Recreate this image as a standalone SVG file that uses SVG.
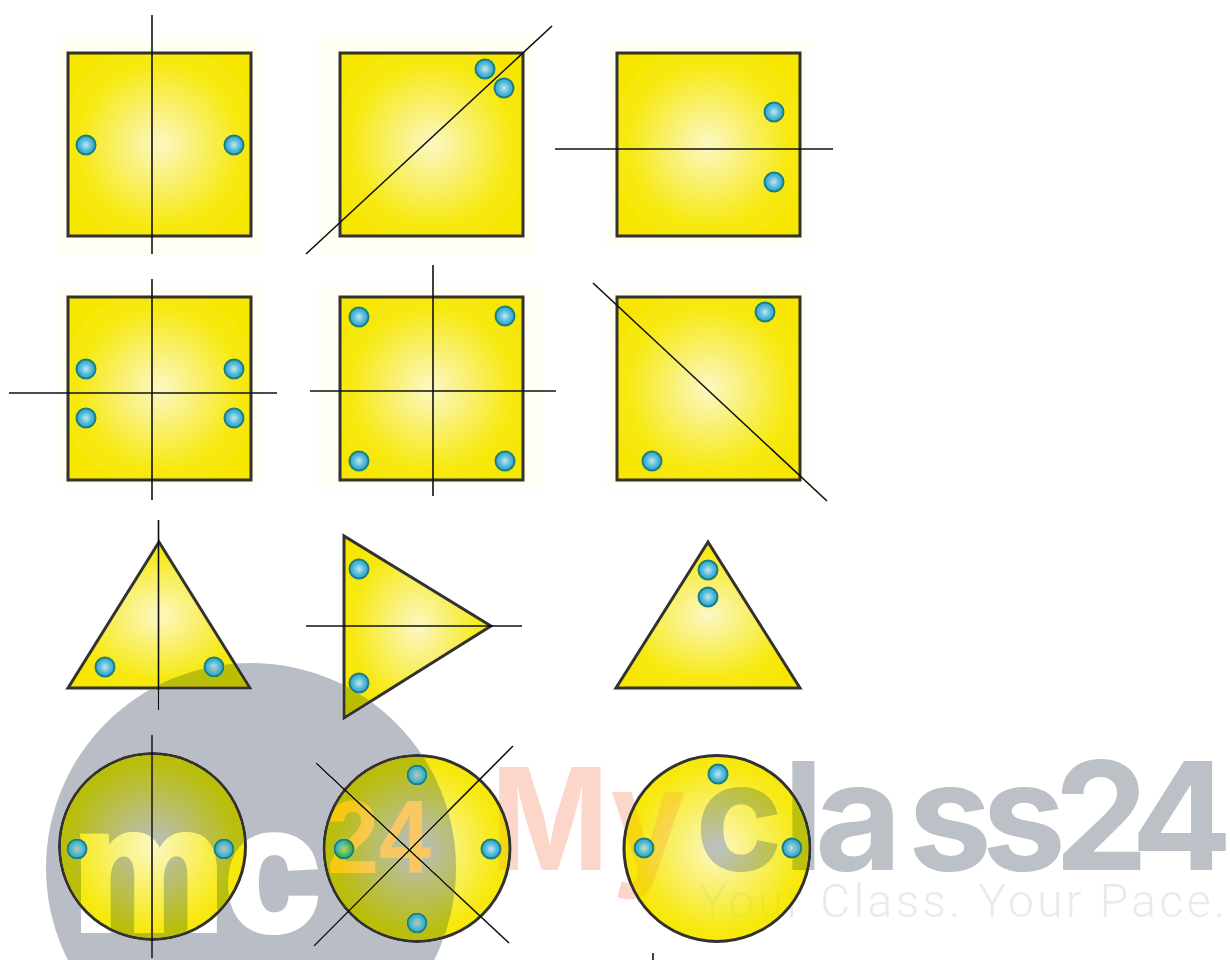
<svg xmlns="http://www.w3.org/2000/svg" width="1230" height="960" viewBox="0 0 1230 960">
<defs>
<radialGradient id="fill" cx="50%" cy="50%" r="62%"><stop offset="0" stop-color="#fbf8c4"/><stop offset="0.3" stop-color="#f9f17a"/><stop offset="0.72" stop-color="#f7e90f"/><stop offset="1" stop-color="#f6e600"/></radialGradient>
<radialGradient id="dot" cx="50%" cy="50%" r="50%"><stop offset="0" stop-color="#c5e8ea"/><stop offset="0.6" stop-color="#52b9dc"/><stop offset="1" stop-color="#2ea3cf"/></radialGradient>
<symbol id="d" overflow="visible"><circle r="9.500" fill="url(#dot)" stroke="#1d7f7d" stroke-width="2"/></symbol>
<filter id="soft" x="-5%" y="-5%" width="110%" height="110%"><feGaussianBlur stdDeviation="0.500"/></filter>
</defs>
<style>
.s{fill:url(#fill);stroke:#33302f;stroke-width:3;stroke-linejoin:miter}
.h{fill:#fffff6}
.l{stroke:#111;stroke-width:1.600;fill:none}
.w{font-family:"Inter","Liberation Sans",sans-serif;font-weight:700}
.m{font-family:"Liberation Sans",sans-serif;font-weight:700}
</style>
<rect width="1230" height="960" fill="#fff"/>
<g filter="url(#soft)">
<g id="halos">
<rect class="h" x="60" y="36" width="200" height="220"/><rect class="h" x="318" y="36" width="216" height="220"/><rect class="h" x="606" y="40" width="204" height="206"/>
<rect class="h" x="60" y="285" width="200" height="205"/><rect class="h" x="318" y="285" width="224" height="205"/><rect class="h" x="606" y="285" width="204" height="205"/>
</g>
<g id="square-1"><rect class="s" x="68" y="53" width="183" height="183"/><use href="#d" x="86" y="145"/><use href="#d" x="234" y="145"/></g>
<g id="square-2"><rect class="s" x="340" y="53" width="183" height="183"/><use href="#d" x="485" y="69"/><use href="#d" x="504" y="88"/></g>
<g id="square-3"><rect class="s" x="617" y="53" width="183" height="183"/><use href="#d" x="774" y="112"/><use href="#d" x="774" y="182"/></g>
<g id="square-4"><rect class="s" x="68" y="297" width="183" height="183"/><use href="#d" x="86" y="369"/><use href="#d" x="234" y="369"/><use href="#d" x="86" y="418"/><use href="#d" x="234" y="418"/></g>
<g id="square-5"><rect class="s" x="340" y="297" width="183" height="183"/><use href="#d" x="359" y="317"/><use href="#d" x="505" y="316"/><use href="#d" x="359" y="461"/><use href="#d" x="505" y="461"/></g>
<g id="square-6"><rect class="s" x="617" y="297" width="183" height="183"/><use href="#d" x="765" y="312"/><use href="#d" x="652" y="461"/></g>
<g id="triangle-1"><polygon class="s" points="159,542 68,688 250,688"/><use href="#d" x="105" y="667"/><use href="#d" x="214" y="667"/></g>
<g id="triangle-2"><polygon class="s" points="344,536 344,718 491,626"/><use href="#d" x="359" y="569"/><use href="#d" x="359" y="683"/></g>
<g id="triangle-3"><polygon class="s" points="708,542 616,688 800,688"/><use href="#d" x="708" y="570"/><use href="#d" x="708" y="597"/></g>
<g id="circle-1"><circle class="s" cx="152.500" cy="846.500" r="93"/><use href="#d" x="77" y="849"/><use href="#d" x="224" y="849"/></g>
<g id="circle-2"><circle class="s" cx="417" cy="848.500" r="93"/><use href="#d" x="417" y="775"/><use href="#d" x="344" y="849"/><use href="#d" x="491" y="849"/><use href="#d" x="417" y="923"/></g>
<g id="circle-3"><circle class="s" cx="717" cy="848.500" r="93"/><use href="#d" x="718" y="774"/><use href="#d" x="644" y="848"/><use href="#d" x="792" y="848"/></g>
<g id="connectors">
<line class="l" x1="152" y1="15" x2="152" y2="254"/>
<line class="l" x1="306" y1="254" x2="552" y2="26"/>
<line class="l" x1="555" y1="149" x2="833" y2="149"/>
<line class="l" x1="152" y1="279" x2="152" y2="500"/>
<line class="l" x1="9" y1="393" x2="277" y2="393"/>
<line class="l" x1="433" y1="265" x2="433" y2="496"/>
<line class="l" x1="310" y1="391" x2="556" y2="391"/>
<line class="l" x1="593" y1="283" x2="827" y2="501"/>
<line class="l" x1="158.500" y1="520" x2="158.500" y2="710"/>
<line class="l" x1="306" y1="626" x2="522" y2="626"/>
<line class="l" x1="152" y1="735" x2="152" y2="958"/>
<line class="l" x1="316" y1="763" x2="509" y2="943"/>
<line class="l" x1="513" y1="746" x2="314" y2="946"/>
<line class="l" x1="653" y1="953" x2="653" y2="960"/>
</g>
</g>
<g id="watermark" style="mix-blend-mode:darken" filter="url(#soft)">
<circle cx="251" cy="868" r="205" fill="#b9bec6"/>
<text class="m" x="72" y="930" font-size="176" fill="#fff" stroke="#fff" stroke-width="6" textLength="248" lengthAdjust="spacingAndGlyphs">mc</text>
<text class="m" x="327" y="873" font-size="103" fill="#ffc862" textLength="104" lengthAdjust="spacingAndGlyphs">24</text>
<text class="w" x="491" y="870" font-size="142" fill="#fcd6c8" textLength="195" lengthAdjust="spacingAndGlyphs">My</text>
<text class="w" x="695 783 815 908 982 1054 1131" y="870" font-size="150" fill="#bcc1c8">class24</text>
<text x="699" y="917" font-family="Roboto,'Liberation Sans',sans-serif" font-weight="300" font-size="46" fill="#e8eaed" textLength="526" lengthAdjust="spacing">Your Class. Your Pace.</text>
</g>
</svg>
